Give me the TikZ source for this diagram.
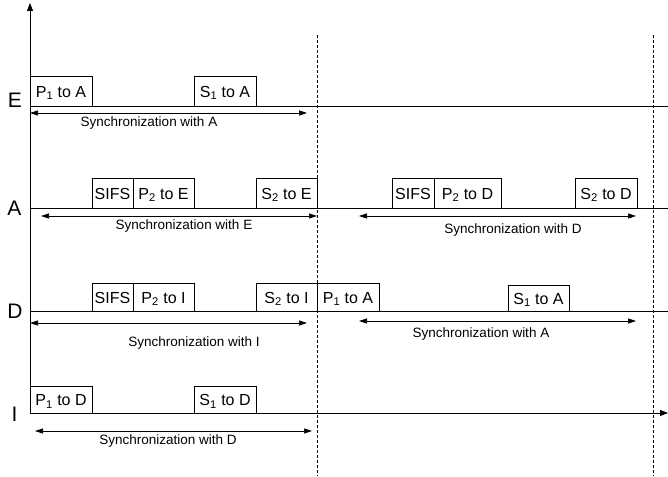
\documentclass[tikz,border=0pt]{standalone}
\usepackage{fontspec}
\setmainfont{Liberation Sans}
\usetikzlibrary{
  arrows.meta,
  positioning
}

\begin{document}
\begin{tikzpicture}[
    x=1pt,
    y=-1pt,
    line width=.9pt,
    >={Triangle[length=8pt,width=5pt]},
    pkt/.style={draw,line width=.6pt,inner sep=0pt,outer sep=0pt,
      anchor=south west,minimum height=30pt,
      text height=12.5pt,text depth=0pt,
      font=\fontsize{16}{18}\selectfont},
    sifs/.style={pkt,minimum width=41pt},
    slot/.style={pkt,minimum width=62pt},
    sync/.style={<->,line width=.7pt},
    synclabel/.style={anchor=base,inner sep=0pt,
      font=\fontsize{13.5}{15}\selectfont},
    station/.style={anchor=base,inner sep=0pt,
      font=\fontsize{21}{23}\selectfont},
    bound/.style={line width=.6pt,dash pattern=on 3pt off 2pt},
  ]
  \useasboundingbox (0,0) rectangle (668,476);

  % stations
  \node[station] (E) at (15,107.5) {E};
  \node[station] (A) at (14.5,215) {A};
  \node[station] (D) at (15,318) {D};
  \node[station] (I) at (14.5,421) {I};

  % time lines
  \coordinate (origin) at (30,413);
  \coordinate (ytop) at (30,3);
  \coordinate (xend) at (668,413);
  \draw[-{Triangle[length=8pt,width=6pt]}] (origin) -- (ytop);
  \draw[-{Triangle[length=8pt,width=6pt]}] (origin) -- (xend);
  \foreach \y in {106,208,311}
    \draw (30,\y) -- (668,\y);

  % period boundaries
  \draw[bound] (317,35) -- (317,476);
  \draw[bound] (653,35) -- (653,476);

  % E
  \node[slot] (pE1) at (30,106) {P\textsubscript{1} to A};
  \node[slot] (sE1) at (194,106) {S\textsubscript{1} to A};
  \coordinate (eL) at (30,113);
  \coordinate (eR) at (307,113);
  \draw[sync] (eL) -- (eR);
  \node[synclabel] (tE) at (149,126) {Synchronization with A};

  % A
  \node[sifs] (fA1) at (92,208) {SIFS};
  \node[slot,minimum width=61pt,right=0pt of fA1] (pA2) {P\textsubscript{2} to E};
  \node[slot,minimum width=61pt] (sA2) at (256,208) {S\textsubscript{2} to E};
  \node[sifs,minimum width=42pt] (fA2) at (392,208) {SIFS};
  \node[slot,minimum width=67pt,right=0pt of fA2] (pA3) {P\textsubscript{2} to D};
  \node[slot] (sA3) at (575,208) {S\textsubscript{2} to D};
  \coordinate (aL1) at (41,216);
  \coordinate (aR1) at (317,216);
  \coordinate (aL2) at (359,216);
  \coordinate (aR2) at (636,216);
  \draw[sync] (aL1) -- (aR1);
  \draw[sync] (aL2) -- (aR2);
  \node[synclabel] (tA1) at (184,229) {Synchronization with E};
  \node[synclabel] (tA2) at (513,233) {Synchronization with D};

  % D
  \node[sifs,minimum height=28pt] (fD1) at (92,311) {SIFS};
  \node[slot,minimum width=61pt,minimum height=28pt,right=0pt of fD1] (pD2) {P\textsubscript{2} to I};
  \node[slot,minimum width=61pt,minimum height=28pt] (sD2) at (256,311) {S\textsubscript{2} to I};
  \node[slot,minimum height=28pt,right=0pt of sD2] (pD3) {P\textsubscript{1} to A};
  \node[slot,minimum width=61pt,minimum height=26pt] (sD3) at (508,311) {S\textsubscript{1} to A};
  \coordinate (dL1) at (30,323);
  \coordinate (dR1) at (307,323);
  \coordinate (dL2) at (359,321);
  \coordinate (dR2) at (636,321);
  \draw[sync] (dL1) -- (dR1);
  \draw[sync] (dL2) -- (dR2);
  \node[synclabel] (tD1) at (194,346) {Synchronization with I};
  \node[synclabel] (tD2) at (481,337) {Synchronization with A};

  % I
  \node[slot,minimum height=27pt] (pI1) at (30,413) {P\textsubscript{1} to D};
  \node[slot,minimum height=27pt] (sI1) at (194,413) {S\textsubscript{1} to D};
  \coordinate (iL) at (35,431);
  \coordinate (iR) at (312,431);
  \draw[sync] (iL) -- (iR);
  \node[synclabel] (tI) at (168,444) {Synchronization with D};
\end{tikzpicture}
\end{document}
